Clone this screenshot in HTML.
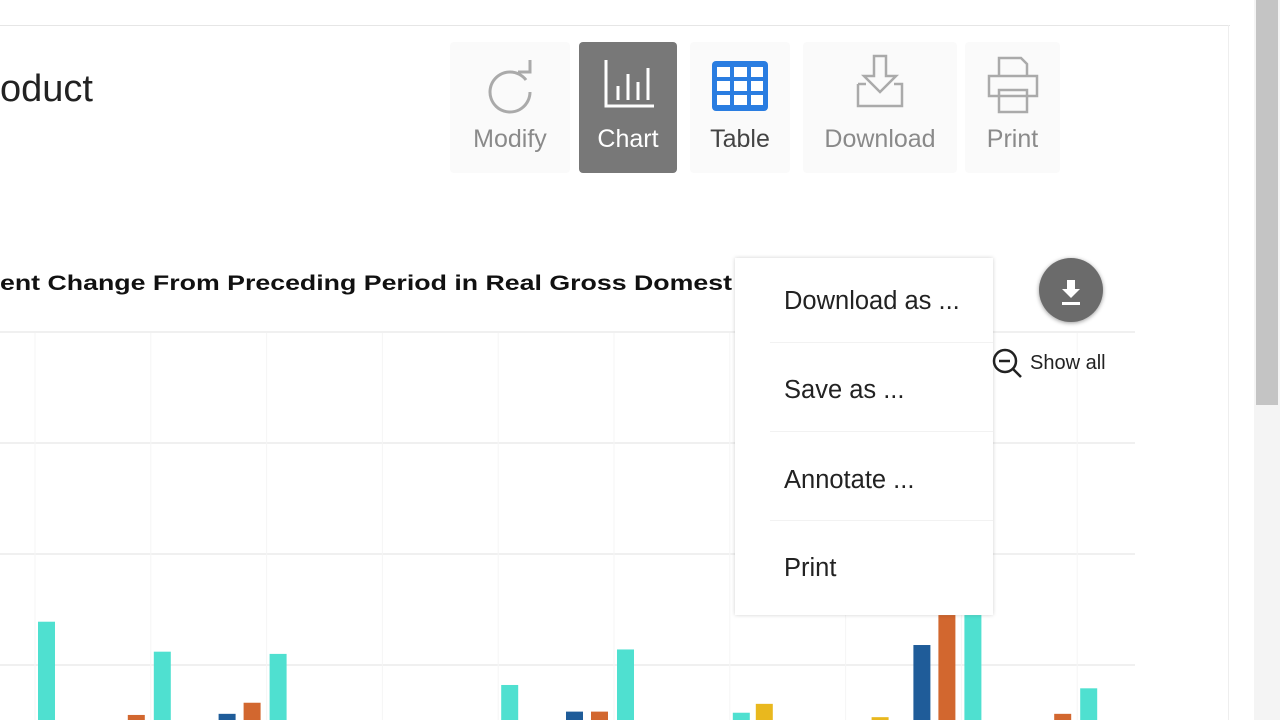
<!DOCTYPE html>
<html style="overflow:hidden"><head><meta charset="utf-8"><style>
html,body{margin:0;width:1280px;height:720px;overflow:hidden}
body{background:#fff;font-family:"Liberation Sans",sans-serif;position:relative}
.abs{position:absolute}
.btn{position:absolute;top:42px;height:131px;background:#fafafa;border-radius:4px;text-align:center;color:#8a8a8a;font-size:25px}
.btn span{position:absolute;left:0;right:0;top:83px}
.menu{position:absolute;left:735px;top:258px;width:258px;height:357px;background:#fff;box-shadow:0 0 4px rgba(0,0,0,.18)}
.mi{position:absolute;left:49px;font-size:25.5px;color:#222}
.sep{position:absolute;left:35px;right:0;height:1px;background:#f2f2f2}
</style></head><body>
<div class="abs" style="left:0;top:25px;width:1230px;height:1px;background:#e6e6e6"></div>
<div class="abs" style="left:1228px;top:25px;width:1px;height:695px;background:#eee"></div>
<div class="abs" style="left:1254px;top:0;width:26px;height:720px;background:#f4f4f4"></div>
<div class="abs" style="left:1256px;top:0;width:22px;height:405px;background:#c4c4c4"></div>
<div class="abs" style="left:0;top:68px;font-size:38px;color:#222">oduct</div>

<div class="btn" style="left:450px;width:120px">
<svg width="60" height="60" style="margin-top:16px" viewBox="0 0 60 60"><path d="M46 22 A20 20 0 1 0 50 34" fill="none" stroke="#aaa" stroke-width="3"/><path d="M38 14 L50 14 L50 2" fill="none" stroke="#aaa" stroke-width="3"/></svg><span>Modify</span></div>
<div class="btn" style="left:579px;width:98px;background:#787878;color:#fff">
<svg width="60" height="60" style="margin-top:14px" viewBox="0 0 60 60"><path d="M8 4 V50 H56" fill="none" stroke="#fff" stroke-width="3"/><path d="M20 44V30M30 44V18M40 44V26M50 44V12" stroke="#fff" stroke-width="3"/></svg><span>Chart</span></div>
<div class="btn" style="left:690px;width:100px;color:#444">
<svg width="60" height="60" style="margin-top:16px" viewBox="0 0 60 60"><rect x="2" y="3" width="56" height="50" rx="4" fill="#2a7de1"/><g fill="#fff"><rect x="7" y="9" width="13" height="10"/><rect x="24" y="9" width="13" height="10"/><rect x="41" y="9" width="12" height="10"/><rect x="7" y="23" width="13" height="10"/><rect x="24" y="23" width="13" height="10"/><rect x="41" y="23" width="12" height="10"/><rect x="7" y="37" width="13" height="10"/><rect x="24" y="37" width="13" height="10"/><rect x="41" y="37" width="12" height="10"/></g></svg><span>Table</span></div>
<div class="btn" style="left:803px;width:154px">
<svg width="60" height="60" style="margin-top:12px" viewBox="0 0 60 60"><path d="M24 2H36V22H46L30 38L14 22H24Z" fill="none" stroke="#aaa" stroke-width="2.5"/><path d="M8 30V52H52V30H44M8 30H16" fill="none" stroke="#aaa" stroke-width="2.5"/></svg><span>Download</span></div>
<div class="btn" style="left:965px;width:95px">
<svg width="60" height="60" style="margin-top:14px" viewBox="0 0 60 60"><path d="M16 20V2H38L44 8V20M6 20H54V40H6ZM16 34H44V56H16Z" fill="none" stroke="#aaa" stroke-width="2.5"/></svg><span>Print</span></div>

<svg class="abs" style="left:0;top:0" width="1250" height="720" id="chart">
<text x="0" y="290" font-size="21" font-weight="bold" fill="#111" textLength="732" lengthAdjust="spacingAndGlyphs">ent Change From Preceding Period in Real Gross Domest</text>
<g id="grid"></g><g id="bars"></g>
</svg>

<div class="menu">
<div class="mi" style="top:29px">Download as ...</div>
<div class="sep" style="top:84px"></div>
<div class="mi" style="top:118px">Save as ...</div>
<div class="sep" style="top:173px"></div>
<div class="mi" style="top:208px">Annotate ...</div>
<div class="sep" style="top:262px"></div>
<div class="mi" style="top:296px">Print</div>
</div>
<div class="abs" style="left:1039px;top:258px;width:64px;height:64px;border-radius:50%;background:#6b6b6b;box-shadow:0 1px 4px rgba(0,0,0,.4)">
<svg width="64" height="64"><path d="M28 22H36V31H41L32 40L23 31H28Z" fill="#fff"/><rect x="23" y="44" width="18" height="3" fill="#fff"/></svg></div>
<svg class="abs" style="left:990px;top:346px" width="130" height="34">
<circle cx="15" cy="15" r="11" fill="none" stroke="#222" stroke-width="2.5"/><path d="M9 15H20M23 23L31 31" stroke="#222" stroke-width="2.5"/>
<text x="40" y="23" font-size="20" fill="#222">Show all</text></svg>

<script>
const categories=["g0","g1","g2","g3","g4","g5","g6","g7","g8","g9"];
const blueVals=[0,0,0.56,0,0,0.58,0,0,1.18,0];
const orangeVals=[0,0.55,0.66,0,0,0.58,0,0,1.45,0.56];
const tealVals=[1.39,1.12,1.10,0,0.82,1.14,0.57,0,1.45,0.79];
const yellowVals=[0,0,0,0,0,0,0.65,0.53,0,0];
const gridTicks=[1,2,3,4];
const ns="http://www.w3.org/2000/svg";
const y0=776,unit=111,groupW=115.8,first=47;
const y=v=>y0-v*unit;
const xc=i=>first+i*groupW;
const grid=document.getElementById('grid'),bars=document.getElementById('bars');
gridTicks.forEach(t=>{const l=document.createElementNS(ns,'line');
l.setAttribute('x1',0);l.setAttribute('x2',1135);l.setAttribute('y1',y(t));l.setAttribute('y2',y(t));
l.setAttribute('stroke','#ececec');l.setAttribute('stroke-width','1.5');


grid.appendChild(l);});
categories.forEach((c,i)=>{const l=document.createElementNS(ns,'line');const x=xc(i)-12;
l.setAttribute('x1',x);l.setAttribute('x2',x);l.setAttribute('y1',333);l.setAttribute('y2',720);
l.setAttribute('stroke','#f5f5f5');


grid.appendChild(l);});
const series=[[blueVals,'#1f5c99',-51,'bar-blue'],[orangeVals,'#d2672f',-26,'bar-orange'],[tealVals,'#4fe0d0',0,'bar-teal'],[yellowVals,'#e9b81e',23,'bar-yellow']];
series.forEach(s=>{s[0].forEach((v,i)=>{if(v<=0)return;const r=document.createElementNS(ns,'rect');
const top=y(v);
r.setAttribute('x',xc(i)+s[2]-9);r.setAttribute('width',17);r.setAttribute('y',top);r.setAttribute('height',Math.max(0,720-top));
r.setAttribute('fill',s[1]);


bars.appendChild(r);});});
</script>
</body></html>
